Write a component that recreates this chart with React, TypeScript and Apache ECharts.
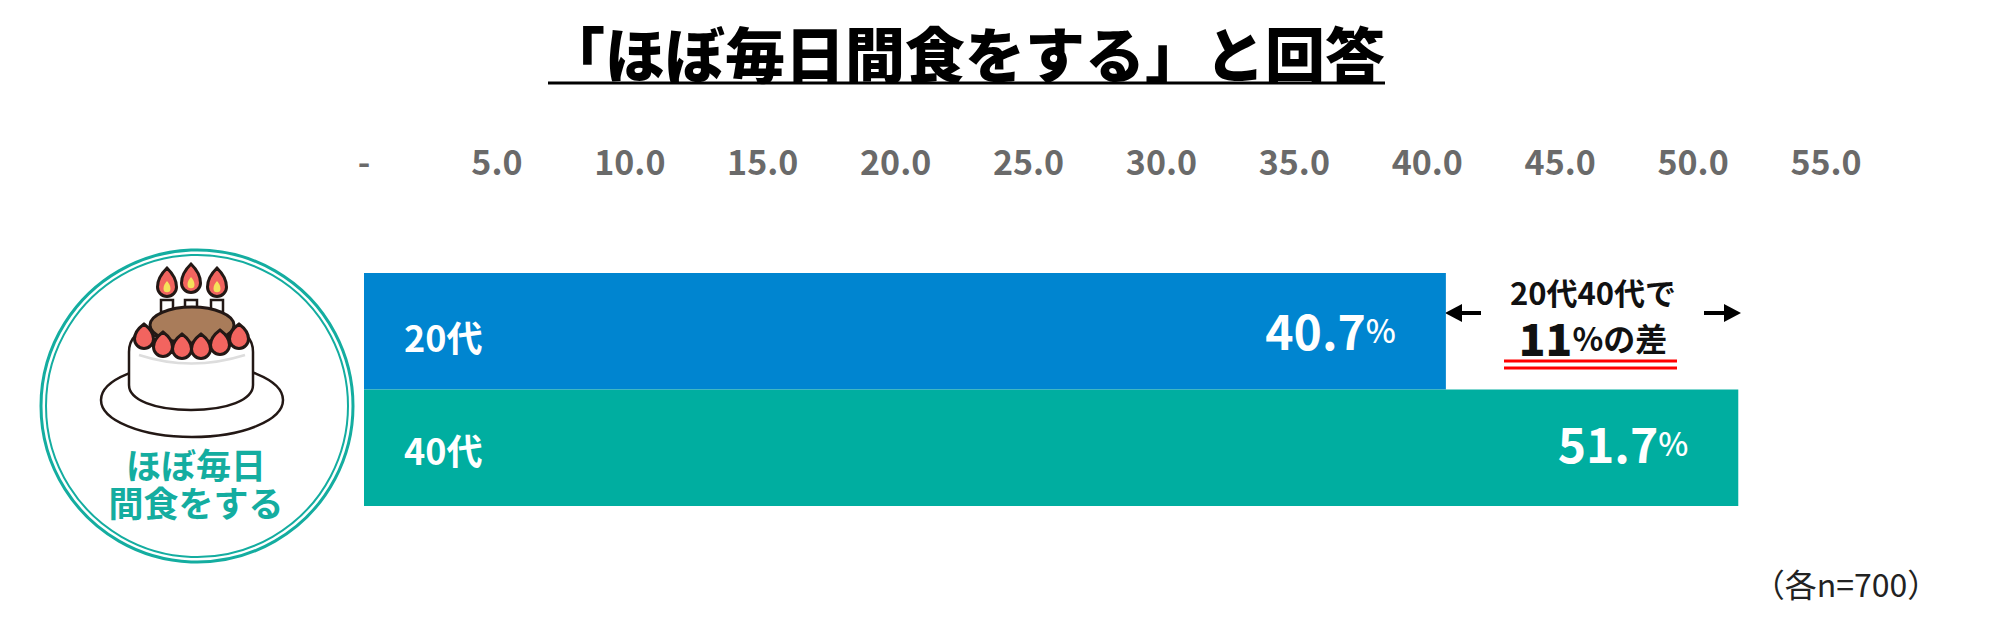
import React, { useEffect, useRef } from "react";
import * as echarts from "echarts";

const categories = ["20代", "40代"];
const values = [40.7, 51.7];
const barColors = ["#0085D0", "#00AEA0"];
const axisMax = 55;
const axisStep = 5;
const titleText = "「ほぼ毎日間食をする」と回答";
const noteText = "（各n=700）";
const badgeLines = ["ほぼ毎日", "間食をする"];

const FONT = '"Noto Sans CJK JP", "Noto Sans", sans-serif';
const INK = "#231815";
const BADGE = "#14ADA0";

const flameXs = [167, 191, 217];
const flameTops = [268, 264, 268];
const berries = [
  [144, 337], [163, 345], [182, 347], [201, 347], [220, 343], [239, 337],
];

function teardrop(cx: number, cy: number, r: number, h: number) {
  return `M${cx} ${cy - h} C${cx + r * 0.55} ${cy - h * 0.7} ${cx + r} ${cy - h * 0.3} ${cx + r} ${cy + r * 0.2} A${r} ${r} 0 0 1 ${cx - r} ${cy + r * 0.2} C${cx - r} ${cy - h * 0.3} ${cx - r * 0.55} ${cy - h * 0.7} ${cx} ${cy - h}Z`;
}

echarts.graphic.registerShape(
  "cakeBody",
  echarts.graphic.extendPath("M135 336 Q129 342 129 352 L129 385 C129 400 155 410 191 410 C227 410 253 400 253 385 L253 352 Q253 342 247 336 Z", {})
);
echarts.graphic.registerShape(
  "cakeCream",
  echarts.graphic.extendPath("M139 355 Q191 372 245 355", {})
);
echarts.graphic.registerShape(
  "berriesShape",
  echarts.graphic.extendPath(berries.map(([x, y]) => teardrop(x, y, 9.5, 13)).join(" "), {})
);
echarts.graphic.registerShape(
  "flameOuter",
  echarts.graphic.extendPath(flameXs.map((x, i) => teardrop(x, flameTops[i] + 17, 9.5, 17)).join(" "), {})
);
echarts.graphic.registerShape(
  "flameCore",
  echarts.graphic.extendPath(flameXs.map((x, i) => teardrop(x, flameTops[i] + 20, 3.5, 7)).join(" "), {})
);

export default function App() {
  const ref = useRef<HTMLDivElement>(null);

  useEffect(() => {
    const chart = echarts.init(ref.current!, null, { renderer: "svg" });
    const cake: any[] = [
      { type: "circle", shape: { cx: 197, cy: 406, r: 156 }, style: { fill: "#fff", stroke: BADGE, lineWidth: 3 } },
      { type: "circle", shape: { cx: 197, cy: 406, r: 151 }, style: { fill: "#fff", stroke: BADGE, lineWidth: 2 } },
      { type: "ellipse", shape: { cx: 192, cy: 400, rx: 91, ry: 37 }, style: { fill: "#fff", stroke: INK, lineWidth: 2.5 } },
      { type: "cakeBody", x: 0, y: 0, style: { fill: "#fff", stroke: INK, lineWidth: 2.5 } },
      { type: "cakeCream", x: 0, y: 0, style: { fill: "none", stroke: "#DDDDDD", lineWidth: 2.5 } },
      ...flameXs.map((x) => ({ type: "rect", shape: { x: x - 6, y: 300, width: 12, height: 12 }, style: { fill: "#fff", stroke: INK, lineWidth: 2.5 } })),
      { type: "flameOuter", x: 0, y: 0, style: { fill: "#F2645F", stroke: INK, lineWidth: 3 } },
      { type: "flameCore", x: 0, y: 0, style: { fill: "#F5E05A" } },
      { type: "ellipse", shape: { cx: 192, cy: 325, rx: 42, ry: 18 }, style: { fill: "#A97C5A", stroke: INK, lineWidth: 3 } },
      { type: "berriesShape", x: 0, y: 0, style: { fill: "#F2645F", stroke: INK, lineWidth: 3 } },
      {
        type: "text", x: 196, y: 482,
        style: { text: badgeLines.join("\n"), font: `700 35px ${FONT}`, lineHeight: 38, fill: BADGE, align: "center", verticalAlign: "middle" },
      },
    ];
    const annotation: any[] = [
      {
        type: "text", x: 1593, y: 314,
        style: {
          text: "{c|20代40代で}\n{a|11}{b|%の差}", align: "center", verticalAlign: "middle",
          rich: {
            c: { font: `700 31px ${FONT}`, fill: "#111", lineHeight: 45 },
            a: { font: `900 44px ${FONT}`, fill: "#111", lineHeight: 45 },
            b: { font: `700 32px ${FONT}`, fill: "#111", lineHeight: 45 },
          },
        },
      },
      { type: "line", shape: { x1: 1504, y1: 361, x2: 1677, y2: 361 }, style: { stroke: "#FF0000", lineWidth: 3 } },
      { type: "line", shape: { x1: 1504, y1: 368, x2: 1677, y2: 368 }, style: { stroke: "#FF0000", lineWidth: 3 } },
      { type: "line", shape: { x1: 1455, y1: 313, x2: 1481, y2: 313 }, style: { stroke: "#000", lineWidth: 4 } },
      { type: "polygon", shape: { points: [[1445, 313], [1462, 304], [1462, 322]] }, style: { fill: "#000" } },
      { type: "line", shape: { x1: 1704, y1: 313, x2: 1730, y2: 313 }, style: { stroke: "#000", lineWidth: 4 } },
      { type: "polygon", shape: { points: [[1741, 313], [1724, 304], [1724, 322]] }, style: { fill: "#000" } },
    ];
    chart.setOption({
      animation: false,
      backgroundColor: "#fff",
      title: {
        text: titleText,
        left: 960,
        top: 12,
        textAlign: "center",
        textStyle: { fontFamily: FONT, fontWeight: 900, fontSize: 60, color: "#000", lineHeight: 68 },
      },
      grid: { left: 364, top: 273, width: 1462, height: 233 },
      xAxis: {
        type: "value",
        position: "top",
        min: 0,
        max: axisMax,
        interval: axisStep,
        axisLine: { show: false },
        axisTick: { show: false },
        splitLine: { show: false },
        axisLabel: {
          margin: 96,
          fontFamily: FONT,
          fontWeight: 700,
          fontSize: 34,
          color: "#6A6A6A",
          hideOverlap: false,
          showMinLabel: true,
          showMaxLabel: true,
          formatter: (v: number) => (v === 0 ? "-" : v.toFixed(1)),
        },
      },
      yAxis: {
        type: "category",
        inverse: true,
        data: categories,
        z: 5,
        axisLine: { show: false },
        axisTick: { show: false },
        axisLabel: {
          inside: true,
          margin: 40,
          formatter: (v: string, i: number) => (i === 0 ? `{t|${v}}` : `{u|${v}}`),
          rich: {
            t: { fontFamily: FONT, fontWeight: 700, fontSize: 36, color: "#fff", padding: [10, 0, 0, 0] },
            u: { fontFamily: FONT, fontWeight: 700, fontSize: 36, color: "#fff", padding: [2, 0, 0, 0] },
          },
        },
      },
      series: [
        {
          type: "bar",
          barCategoryGap: 0,
          data: values.map((v, i) => ({
            value: v,
            itemStyle: { color: barColors[i] },
            label: { offset: [0, i === 0 ? -2 : -6] },
          })),
          label: {
            show: true,
            position: "insideRight",
            distance: 50,
            formatter: (p: any) => `{a|${p.value.toFixed(1)}}{b|%}`,
            rich: {
              a: { fontFamily: FONT, fontWeight: 700, fontSize: 48, color: "#fff" },
              b: { fontFamily: FONT, fontWeight: 500, fontSize: 32, color: "#fff" },
            },
          },
        },
      ],
      graphic: [
        { type: "line", shape: { x1: 548, y1: 83, x2: 1385, y2: 83 }, style: { stroke: "#000", lineWidth: 3 } },
        ...cake,
        ...annotation,
        { type: "text", x: 1846, y: 583, style: { text: noteText, font: `400 32px ${FONT}`, fill: "#222", align: "center", verticalAlign: "middle" } },
      ],
    });
    return () => chart.dispose();
  }, []);

  return <div ref={ref} style={{ position: "absolute", left: 0, top: 0, width: 2000, height: 625 }} />;
}
